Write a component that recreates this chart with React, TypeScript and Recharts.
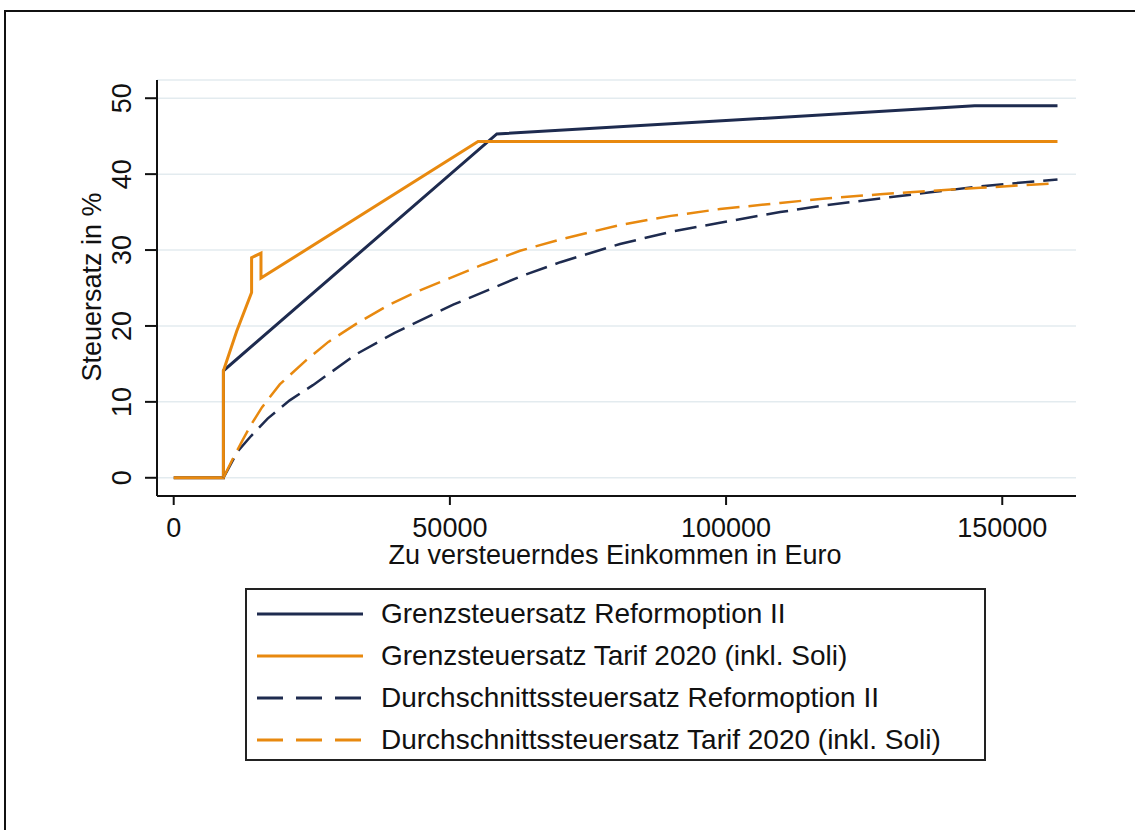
import React from "react";
import { LineChart, Line, XAxis, YAxis, CartesianGrid } from "recharts";

const NAVY = "#1e2b4f";
const ORANGE = "#e8890f";
const FONT = "'Liberation Sans', Arial, sans-serif";

/* ── data (income in Euro, rate in %) ── */

const grenzReformIncome = [0, 9000, 9000, 58500, 100000, 145000, 160000];
const grenzReformRate = [0, 0, 14.1, 45.3, 47.05, 49.0, 49.0];

const grenzTarifIncome = [0, 9000, 9000, 11400, 14100, 14100, 15800, 15800, 55100, 160000];
const grenzTarifRate = [0, 0, 14.1, 19.3, 24.4, 29.0, 29.6, 26.3, 44.3, 44.3];

const durchReformIncome = [
  9000, 11600, 14000, 17000, 21000, 25200, 33100, 40000, 50600, 62700, 70000,
  80800, 90000, 98900, 109800, 118000, 127900, 137000, 146000, 160000,
];
const durchReformRate = [
  0, 3.5, 5.5, 7.8, 10.2, 12.2, 16.3, 19.1, 22.8, 26.5, 28.4, 30.8, 32.4, 33.6,
  35.0, 35.9, 36.8, 37.6, 38.4, 39.3,
];

const durchTarifIncome = [
  9000, 10700, 12500, 14100, 16000, 19200, 24000, 28000, 33100, 39000, 44600,
  50000, 56000, 62700, 70000, 80800, 90000, 98900, 109800, 118000, 127900,
  137000, 146000, 160000,
];
const durchTarifRate = [
  0, 2.5, 5.0, 7.1, 9.3, 12.3, 15.5, 17.9, 20.3, 22.8, 24.7, 26.3, 28.1, 29.9,
  31.4, 33.3, 34.5, 35.4, 36.2, 36.8, 37.35, 37.8, 38.2, 38.8,
];

const xTicks = [0, 50000, 100000, 150000];
const yTicks = [0, 10, 20, 30, 40, 50];

const toPoints = (xs: number[], ys: number[]) =>
  xs.map((x, i) => ({ income: x, rate: ys[i] }));

const series = [
  { name: "Grenzsteuersatz Reformoption II", color: NAVY, dashed: false, data: toPoints(grenzReformIncome, grenzReformRate) },
  { name: "Grenzsteuersatz Tarif 2020 (inkl. Soli)", color: ORANGE, dashed: false, data: toPoints(grenzTarifIncome, grenzTarifRate) },
  { name: "Durchschnittssteuersatz Reformoption II", color: NAVY, dashed: true, data: toPoints(durchReformIncome, durchReformRate) },
  { name: "Durchschnittssteuersatz Tarif 2020 (inkl. Soli)", color: ORANGE, dashed: true, data: toPoints(durchTarifIncome, durchTarifRate) },
];

/* ── ticks and axis titles ── */

function XTick({ x, y, payload }: any) {
  return (
    <text x={x} y={y + 32} textAnchor="middle" fontSize={27} fontFamily={FONT} fill="#111">
      {payload.value}
    </text>
  );
}

function YTick({ x, y, payload }: any) {
  const tx = x - 14;
  return (
    <text
      x={tx}
      y={y}
      transform={`rotate(-90, ${tx}, ${y})`}
      textAnchor="middle"
      fontSize={27}
      fontFamily={FONT}
      fill="#111"
    >
      {payload.value}
    </text>
  );
}

const xTitle = () => (
  <text x={615} y={564} textAnchor="middle" fontSize={27} fontFamily={FONT} fill="#111">
    Zu versteuerndes Einkommen in Euro
  </text>
);

const yTitle = () => (
  <text
    x={101}
    y={287}
    transform="rotate(-90, 101, 287)"
    textAnchor="middle"
    fontSize={27}
    fontFamily={FONT}
    fill="#111"
  >
    Steuersatz in %
  </text>
);

function App() {
  return (
    <div
      style={{
        position: "absolute",
        left: 0,
        top: 0,
        width: 1135,
        height: 830,
        overflow: "hidden",
        background: "#fff",
        fontFamily: FONT,
      }}
    >
      {/* outer frame */}
      <div
        style={{
          position: "absolute",
          left: 4,
          top: 10,
          width: 1300,
          height: 1000,
          borderTop: "2px solid #111",
          borderLeft: "2px solid #111",
        }}
      />

      <div style={{ position: "absolute", left: 0, top: 0 }}>
        <LineChart
          width={1135}
          height={830}
          margin={{ top: 80, right: 59, bottom: 274, left: 57 }}
        >
          <CartesianGrid horizontal vertical={false} stroke="#e3ebef" strokeWidth={1.5} />
          <XAxis
            dataKey="income"
            type="number"
            domain={[-3025, 163350]}
            ticks={xTicks}
            allowDataOverflow
            height={60}
            tickSize={9}
            tickMargin={0}
            axisLine={{ stroke: "#111", strokeWidth: 2 }}
            tickLine={{ stroke: "#111", strokeWidth: 2 }}
            tick={<XTick />}
            label={xTitle}
          />
          <YAxis
            dataKey="rate"
            type="number"
            domain={[-2.4, 52.4]}
            ticks={yTicks}
            allowDataOverflow
            width={100}
            tickSize={12}
            tickMargin={0}
            axisLine={{ stroke: "#111", strokeWidth: 2 }}
            tickLine={{ stroke: "#111", strokeWidth: 2 }}
            tick={<YTick />}
            label={yTitle}
          />
          {series.map((s) => (
            <Line
              key={s.name}
              data={s.data}
              dataKey="rate"
              name={s.name}
              type="linear"
              stroke={s.color}
              strokeWidth={s.dashed ? 2.5 : 3}
              strokeDasharray={s.dashed ? "22 9" : undefined}
              dot={false}
              activeDot={false}
              isAnimationActive={false}
            />
          ))}
        </LineChart>
      </div>

      {/* legend box */}
      <div
        style={{
          position: "absolute",
          left: 245,
          top: 588,
          width: 741,
          height: 173,
          border: "2px solid #222",
          boxSizing: "border-box",
        }}
      >
        {series.map((s, i) => (
          <div
            key={s.name}
            style={{
              position: "absolute",
              left: 0,
              top: 3 + i * 42,
              height: 42,
              display: "flex",
              alignItems: "center",
              whiteSpace: "nowrap",
            }}
          >
            <svg width={126} height={10} style={{ marginLeft: 8 }}>
              <line
                x1={2}
                x2={108}
                y1={5}
                y2={5}
                stroke={s.color}
                strokeWidth={3}
                strokeDasharray={s.dashed ? "26 13" : undefined}
              />
            </svg>
            <span style={{ fontSize: 28, color: "#111" }}>{s.name}</span>
          </div>
        ))}
      </div>
    </div>
  );
}

export default App;
